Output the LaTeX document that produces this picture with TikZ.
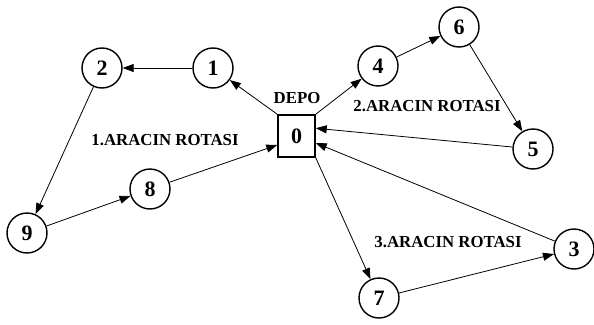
\documentclass[tikz,border=0pt]{standalone}
\usepackage{fontspec}
\setmainfont{Liberation Serif}
\usetikzlibrary{arrows.meta}
\tikzset{
  cnode/.style={circle,draw,line width=1.4pt,minimum size=40pt,inner sep=0pt,font=\bfseries\fontsize{22}{22}\selectfont},
  depot/.style={rectangle,draw,line width=1.4pt,minimum width=37pt,minimum height=42pt,inner sep=0pt,font=\bfseries\fontsize{22}{22}\selectfont},
  lbl/.style={font=\bfseries\fontsize{16.8}{16.8}\selectfont,inner sep=0pt},
  conn/.style={line width=0.8pt,-{Triangle[length=11pt,width=8pt]}}
}
\begin{document}
\begin{tikzpicture}[x=1pt,y=-1pt]
\useasboundingbox (0,0) rectangle (594,324);
\node[depot] (n0) at (296.5,136) {0};
\node[lbl] (depo) at (297,98) {DEPO};
\node[cnode] (n1) at (213,68) {1};
\node[cnode] (n2) at (102,68) {2};
\node[cnode] (n9) at (27,233) {9};
\node[cnode] (n8) at (150,189) {8};
\node[cnode] (n4) at (378,66) {4};
\node[cnode] (n6) at (459,27) {6};
\node[cnode] (n5) at (533,149) {5};
\node[cnode] (n3) at (574,249) {3};
\node[cnode] (n7) at (379,298) {7};
\node[lbl] (l1) at (165,140) {1.ARACIN ROTASI};
\node[lbl] (l2) at (427,106) {2.ARACIN ROTASI};
\node[lbl] (l3) at (448,242) {3.ARACIN ROTASI};
\draw[conn] (n0.north west) -- (n1);
\draw[conn] (n1) -- (n2);
\draw[conn] (n2) -- (n9);
\draw[conn] (n9) -- (n8);
\draw[conn] (n8) -- (n0.205);
\draw[conn] (n0.north east) -- (n4);
\draw[conn] (n4) -- (n6);
\draw[conn] (n6) -- (n5);
\draw[conn] (n5) -- (n0.22);
\draw[conn] (n0.south east) -- (n7);
\draw[conn] (n7) -- (n3);
\draw[conn] (n3) -- (n0.-20);
\end{tikzpicture}
\end{document}
